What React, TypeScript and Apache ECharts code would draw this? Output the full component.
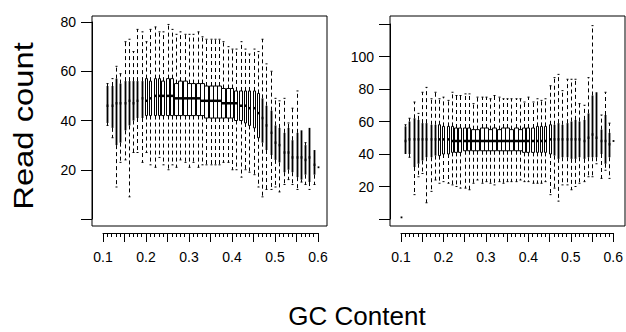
import React, { useEffect, useRef } from 'react';
import * as echarts from 'echarts';

// ---- Left panel (GC content positions and box statistics) ----
const leftGC = [0.11,0.12,0.13,0.14,0.15,0.16,0.17,0.18,0.19,0.20,0.21,0.22,0.23,0.24,0.25,0.26,0.27,0.28,0.29,0.30,0.31,0.32,0.33,0.34,0.35,0.36,0.37,0.38,0.39,0.40,0.41,0.42,0.43,0.44,0.45,0.46,0.47,0.48,0.49,0.50,0.51,0.52,0.53,0.54,0.55,0.56,0.57,0.58,0.59,0.60];
const leftLow = [38,33,13,23,24,9,27,27,23,27,22,21,25,22,20,22,21,24,23,21,23,21,22,22,22,22,22,23,23,20,20,17,20,19,18,13,9,12,12,13,11,14,16,14,12,15,14,12,14,21];
const leftQ1 = [39,37,30,31,36,38,40,41,41,42,42,42,42,42,42,42,42,42,42,42,42,42,42,41,41,41,41,41,41,41,40,40,39,38,37,33,31,28,26,24,23,19,20,19,17,16,18,15,18,21];
const leftMedian = [46,46,47,47,47,48,47,48,49,48,49,50,50,50,50,50,49,49,49,49,49,49,48,48,48,48,48,47,47,47,47,46,46,45,45,43,41,38,35,31,30,27,27,25,25,25,24,25,22,21];
const leftQ3 = [54,54,57,55,56,56,56,56,56,57,56,57,57,56,57,57,55,56,56,55,55,55,55,54,54,54,54,53,53,53,52,52,52,52,52,51,49,46,44,38,37,35,37,32,35,36,30,37,28,21];
const leftHigh = [55,57,62,59,72,73,68,77,76,72,77,78,76,76,79,77,75,76,75,75,75,76,74,73,73,73,73,72,70,69,69,72,69,67,69,68,73,63,60,49,48,49,39,45,52,36,31,37,28,21];
const leftCount = [1,2,3,4,6,8,10,14,18,24,30,38,48,60,75,90,110,130,145,160,160,160,160,155,150,140,130,120,105,90,75,60,48,38,28,20,14,10,7,5,4,3,2,2,1.5,1.5,1,1,1,1];

// ---- Right panel ----
const rightGC = [0.10,0.11,0.12,0.13,0.14,0.15,0.16,0.17,0.18,0.19,0.20,0.21,0.22,0.23,0.24,0.25,0.26,0.27,0.28,0.29,0.30,0.31,0.32,0.33,0.34,0.35,0.36,0.37,0.38,0.39,0.40,0.41,0.42,0.43,0.44,0.45,0.46,0.47,0.48,0.49,0.50,0.51,0.52,0.53,0.54,0.55,0.56,0.57,0.58,0.59,0.60];
const rightLow = [1,40,38,15,26,28,10,17,24,22,23,22,21,20,19,19,18,22,24,22,23,22,21,23,22,23,23,23,24,23,23,22,22,22,23,15,19,11,21,21,18,20,22,23,26,26,34,25,30,25,48];
const rightQ1 = [1,40,40,32,34,36,38,38,39,39,40,40,41,41,41,42,42,42,42,42,42,42,42,42,42,42,42,42,42,41,41,41,41,41,41,40,39,37,38,38,37,37,38,37,38,38,38,40,34,38,48];
const rightMedian = [1,48,49,49,49,49,49,49,49,49,49,49,48,48,48,48,48,48,48,48,48,48,48,48,48,48,48,48,48,48,48,48,48,48,48,49,49,49,49,49,49,49,49,48,50,52,50,48,48,46,48];
const rightQ3 = [1,57,60,62,61,59,59,58,58,58,57,57,57,56,56,56,56,55,55,56,56,55,56,55,56,56,55,56,55,56,56,56,57,57,57,58,58,59,58,59,60,61,60,61,65,76,78,55,64,53,48];
const rightHigh = [1,58,62,72,65,78,81,74,78,74,75,73,78,76,76,77,77,71,75,75,75,74,76,75,74,74,74,74,74,72,75,72,74,73,74,82,87,89,79,86,86,86,71,70,87,119,78,64,78,59,48];
const rightCount = [1,1,2,3,4,6,8,11,15,20,26,34,44,56,70,85,100,120,140,160,160,160,160,160,150,140,130,120,105,90,75,60,48,38,30,22,16,12,9,7,5,4,3,3,2,2,1.5,1.5,1,1,1];

// ---- Axis ticks ----
const xMin = 0.1;
const xMax = 0.6;
const xStep = 0.05;
const leftYMax = 80;
const rightYMax = 120;
const yStep = 20;
const leftHiddenYLabels = [0];
const rightHiddenYLabels = [0, 120];

const rows = (pos: number[], lo: number[], q1: number[], md: number[], q3: number[], hi: number[], n: number[]) =>
  pos.map((p, i) => [p, lo[i], q1[i], md[i], q3[i], hi[i], n[i]]);

const FONT = "'Liberation Sans', Arial, sans-serif";

const renderBox = (params: any, api: any) => {
  const x = api.value(0);
  const lo = api.value(1);
  const q1 = api.value(2);
  const md = api.value(3);
  const q3 = api.value(4);
  const hi = api.value(5);
  const n = api.value(6);
  const pLo = api.coord([x, lo]);
  const pQ1 = api.coord([x, q1]);
  const pMd = api.coord([x, md]);
  const pQ3 = api.coord([x, q3]);
  const pHi = api.coord([x, hi]);
  const k = Math.round(pMd[0]);
  const cx = k + 0.5;
  const w = Math.round(4.4 * Math.sqrt(n / 160));
  const dash = { stroke: '#000', lineWidth: 1, lineDash: [4, 3], fill: null };
  const solid = { stroke: '#000', lineWidth: 1, fill: null };
  const children: any[] = [];
  if (hi > q3) {
    children.push({ type: 'line', shape: { x1: cx, y1: pQ3[1], x2: cx, y2: pHi[1] }, style: dash });
    children.push({ type: 'line', shape: { x1: cx - 1, y1: pHi[1], x2: cx + 1, y2: pHi[1] }, style: solid });
  }
  if (lo < q1) {
    children.push({ type: 'line', shape: { x1: cx, y1: pQ1[1], x2: cx, y2: pLo[1] }, style: dash });
    children.push({ type: 'line', shape: { x1: cx - 1, y1: pLo[1], x2: cx + 1, y2: pLo[1] }, style: solid });
  }
  let mx1 = k - 0.4;
  let mx2 = k + 1.4;
  if (q3 > q1) {
    if (w < 2) {
      // very few reads: the box collapses to a solid bar
      children.push({
        type: 'line',
        shape: { x1: cx, y1: pQ3[1], x2: cx, y2: pQ1[1] },
        style: { stroke: '#000', lineWidth: 1.8 },
      });
    } else {
      const half = w / 2;
      const c = w % 2 === 0 ? k + 0.5 : k;
      children.push({
        type: 'rect',
        shape: { x: c - half, y: pQ3[1], width: w, height: pQ1[1] - pQ3[1] },
        style: { fill: '#fff', stroke: '#000', lineWidth: 1 },
      });
      mx1 = c - half - 0.5;
      mx2 = c + half + 0.5;
    }
  }
  children.push({
    type: 'line',
    shape: { x1: mx1, y1: pMd[1], x2: mx2, y2: pMd[1] },
    style: { stroke: '#000', lineWidth: q3 > q1 ? 2.5 : 1.8 },
  });
  return { type: 'group', children };
};

const xAxisVisible = (gridIndex: number) => ({
  gridIndex,
  type: 'value',
  min: xMin,
  max: xMax,
  interval: xStep,
  offset: 14,
  axisLine: { show: true, onZero: false, lineStyle: { color: '#000', width: 1 } },
  axisTick: { show: true, length: 9, lineStyle: { color: '#000', width: 1 } },
  minorTick: { show: true, splitNumber: 5, length: 4, lineStyle: { color: '#000', width: 1 } },
  splitLine: { show: false },
  minorSplitLine: { show: false },
  axisLabel: {
    color: '#000',
    fontSize: 14,
    fontFamily: FONT,
    margin: 17,
    showMinLabel: true,
    showMaxLabel: true,
    formatter: (v: number) => {
      const k = Math.round(v * 100);
      return k % 10 === 0 ? (k / 100).toFixed(1) : '';
    },
  },
});

const yAxisVisible = (gridIndex: number, max: number, hidden: number[]) => ({
  gridIndex,
  type: 'value',
  min: 0,
  max,
  interval: yStep,
  offset: 11,
  axisLine: { show: true, onZero: false, lineStyle: { color: '#000', width: 1 } },
  axisTick: { show: true, length: 11, lineStyle: { color: '#000', width: 1 } },
  splitLine: { show: false },
  axisLabel: {
    color: '#000',
    fontSize: 14,
    fontFamily: FONT,
    margin: 16,
    showMinLabel: true,
    showMaxLabel: true,
    formatter: (v: number) => (hidden.indexOf(v) >= 0 ? '' : String(v)),
  },
});

const hiddenAxis = (gridIndex: number) => ({ gridIndex, type: 'value', show: false, min: 0, max: 1 });

export default function App() {
  const ref = useRef<HTMLDivElement>(null);
  useEffect(() => {
    if (!ref.current) return;
    const chart = echarts.init(ref.current, null, { renderer: 'svg' });
    chart.setOption({
      animation: false,
      backgroundColor: '#fff',
      grid: [
        { left: 92, top: 16, width: 235, height: 210, show: true, borderColor: '#000', borderWidth: 1, backgroundColor: 'transparent' },
        { left: 390, top: 16, width: 235, height: 210, show: true, borderColor: '#000', borderWidth: 1, backgroundColor: 'transparent' },
        { left: 103, top: 22, width: 215, height: 197, show: false },
        { left: 401, top: 24, width: 214, height: 195, show: false },
      ],
      xAxis: [hiddenAxis(0), hiddenAxis(1), xAxisVisible(2), xAxisVisible(3)],
      yAxis: [hiddenAxis(0), hiddenAxis(1), yAxisVisible(2, leftYMax, leftHiddenYLabels), yAxisVisible(3, rightYMax, rightHiddenYLabels)],
      series: [
        {
          type: 'custom',
          xAxisIndex: 2,
          yAxisIndex: 2,
          clip: false,
          renderItem: renderBox,
          encode: { x: 0, y: [1, 2, 3, 4, 5] },
          data: rows(leftGC, leftLow, leftQ1, leftMedian, leftQ3, leftHigh, leftCount),
        },
        {
          type: 'custom',
          xAxisIndex: 3,
          yAxisIndex: 3,
          clip: false,
          renderItem: renderBox,
          encode: { x: 0, y: [1, 2, 3, 4, 5] },
          data: rows(rightGC, rightLow, rightQ1, rightMedian, rightQ3, rightHigh, rightCount),
        },
      ],
      graphic: [
        {
          type: 'text',
          x: 23,
          y: 126,
          rotation: Math.PI / 2,
          scaleX: 1.17,
          style: {
            text: 'Read count',
            font: "28px 'Liberation Sans', Arial, sans-serif",
            fill: '#000',
            align: 'center',
            verticalAlign: 'middle',
            textAlign: 'center',
            textVerticalAlign: 'middle',
          },
        },
        {
          type: 'text',
          x: 357,
          y: 316,
          style: {
            text: 'GC Content',
            font: "26px 'Liberation Sans', Arial, sans-serif",
            fill: '#000',
            align: 'center',
            verticalAlign: 'middle',
            textAlign: 'center',
            textVerticalAlign: 'middle',
          },
        },
      ],
    });
    return () => chart.dispose();
  }, []);
  return <div ref={ref} style={{ position: 'absolute', left: 0, top: 0, width: 626, height: 332 }} />;
}
